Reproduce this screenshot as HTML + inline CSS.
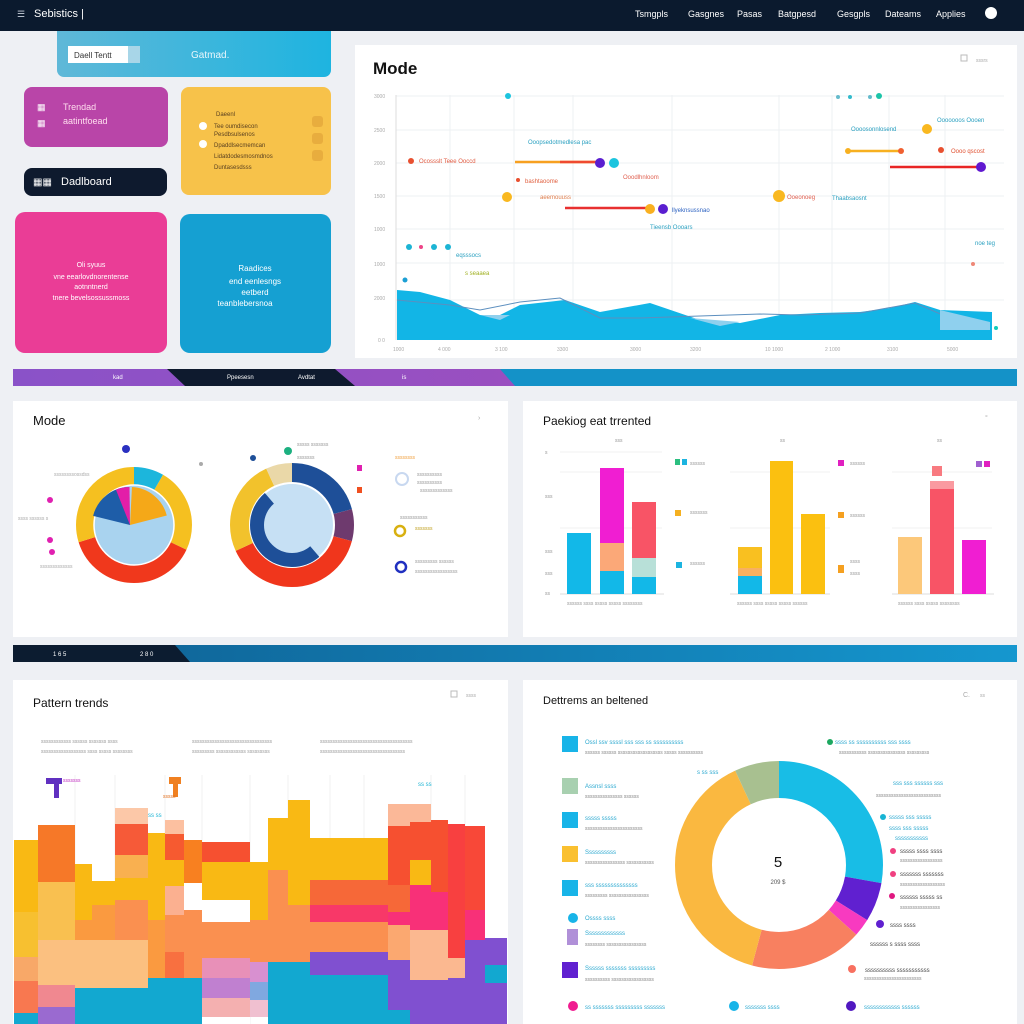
<!DOCTYPE html>
<html><head><meta charset="utf-8"><style>
html,body{margin:0;padding:0;background:#eef0f4;}
svg{display:block;font-family:"Liberation Sans",sans-serif;}
</style></head><body>
<svg width="1024" height="1024" viewBox="0 0 1024 1024" xmlns="http://www.w3.org/2000/svg">
<defs>
<linearGradient id="cy" x1="0" x2="1"><stop offset="0" stop-color="#5fb8d8"/><stop offset="1" stop-color="#1eb4e0"/></linearGradient>
<linearGradient id="st1" x1="0" x2="1"><stop offset="0" stop-color="#8a52c8"/><stop offset="0.5" stop-color="#9a4fc0"/><stop offset="1" stop-color="#1190c8"/></linearGradient>
<linearGradient id="st2" x1="0" x2="1"><stop offset="0" stop-color="#0f5f92"/><stop offset="1" stop-color="#1597cf"/></linearGradient>
<linearGradient id="org" x1="0" x2="1"><stop offset="0" stop-color="#f76b3a"/><stop offset="1" stop-color="#fb9a80"/></linearGradient>
</defs>
<rect width="1024" height="1024" fill="#eef0f4"/>
<!-- top bar -->
<rect width="1024" height="31" fill="#0b1a2e"/>
<text x="17" y="17" fill="#c8d0dc" font-size="9">☰</text>
<text x="34" y="17" fill="#fff" font-size="11">Sebistics |</text>
<g fill="#fff" font-size="9">
<text x="635" y="17">Tsmgpls</text><text x="688" y="17">Gasgnes</text><text x="737" y="17">Pasas</text><text x="778" y="17">Batgpesd</text><text x="837" y="17">Gesgpls</text><text x="885" y="17">Dateams</text><text x="936" y="17">Applies</text></g>
<circle cx="991" cy="13" r="6" fill="#fff"/>
<!-- left cards -->
<path d="M57 31 H331 V70 a7 7 0 0 1 -7 7 H64 a7 7 0 0 1 -7 -7 Z" fill="url(#cy)"/>
<rect x="68" y="46" width="60" height="17" fill="#fff"/><rect x="128" y="46" width="12" height="17" fill="#a8d6e8"/>
<text x="74" y="58" font-size="8" fill="#333">Daell Tentt</text>
<text x="191" y="58" font-size="10" fill="#e8f6fb">Gatmad.</text>
<rect x="24" y="87" width="144" height="60" rx="8" fill="#b945a8"/>
<text x="37" y="110" font-size="9" fill="#fff">▦</text><text x="37" y="126" font-size="9" fill="#fff">▦</text>
<text x="63" y="110" font-size="9" fill="#fde">Trendad</text><text x="63" y="124" font-size="9" fill="#fde">aatintfoead</text>
<rect x="181" y="87" width="150" height="108" rx="8" fill="#f7c24a"/>
<g fill="#5a4020" font-size="6"><text x="216" y="116">Daeenl</text><text x="214" y="128">Tee oumdisecon</text><text x="214" y="136">Pesdbsulsenos</text><text x="214" y="147">Dpaddlsecmemcan</text><text x="214" y="158">Lidatdodesmosmdnos</text><text x="214" y="169">Duntasesdsss</text></g>
<g fill="#fff"><circle cx="203" cy="126" r="4"/><circle cx="203" cy="144" r="4"/></g>
<g fill="#e8ad3e"><rect x="312" y="116" width="11" height="11" rx="3"/><rect x="312" y="133" width="11" height="11" rx="3"/><rect x="312" y="150" width="11" height="11" rx="3"/></g>
<rect x="24" y="168" width="143" height="28" rx="8" fill="#0e1a2e"/>
<text x="33" y="185" font-size="10" fill="#fff">▦▦</text><text x="61" y="185" font-size="11" fill="#fff">Dadlboard</text>
<rect x="15" y="212" width="152" height="141" rx="10" fill="#ea3d96"/>
<g fill="#fff" font-size="7" text-anchor="middle"><text x="91" y="267">Oli syuus</text><text x="91" y="279">vne eearlovdnorentense</text><text x="91" y="289">aotnntnerd</text><text x="91" y="300">tnere bevelsossussmoss</text></g>
<rect x="180" y="214" width="151" height="139" rx="10" fill="#15a0d2"/>
<g fill="#fff" font-size="8" text-anchor="middle"><text x="255" y="271">Raadices</text><text x="255" y="284">end eenlesngs</text><text x="255" y="295">eetberd</text><text x="245" y="306">teanblebersnoa</text></g>
<!-- top right chart panel -->
<rect x="355" y="45" width="662" height="313" fill="#fff"/>
<text x="373" y="74" font-size="17" font-weight="bold" fill="#111">Mode</text>
<rect x="961" y="55" width="6" height="6" fill="none" stroke="#bbb"/><text x="976" y="62" font-size="5" fill="#aaa">sssrs</text>
<g stroke="#eef0f3" stroke-width="1">
<line x1="396" y1="96" x2="1004" y2="96"/><line x1="396" y1="130" x2="1004" y2="130"/><line x1="396" y1="163" x2="1004" y2="163"/><line x1="396" y1="196" x2="1004" y2="196"/><line x1="396" y1="229" x2="1004" y2="229"/><line x1="396" y1="263" x2="1004" y2="263"/><line x1="396" y1="300" x2="1004" y2="300"/>
<line x1="450" y1="95" x2="450" y2="340"/><line x1="514" y1="95" x2="514" y2="340"/><line x1="573" y1="95" x2="573" y2="340"/><line x1="672" y1="95" x2="672" y2="340"/><line x1="779" y1="95" x2="779" y2="340"/><line x1="832" y1="95" x2="832" y2="340"/><line x1="889" y1="95" x2="889" y2="340"/><line x1="945" y1="95" x2="945" y2="340"/></g>
<line x1="396" y1="95" x2="396" y2="340" stroke="#ddd"/>
<g fill="#aaa" font-size="5"><text x="374" y="98">3000</text><text x="374" y="132">2500</text><text x="374" y="165">2000</text><text x="374" y="198">1500</text><text x="374" y="231">1000</text><text x="374" y="266">1000</text><text x="374" y="300">2000</text><text x="378" y="342">0 0</text>
<text x="393" y="351">1000</text><text x="438" y="351">4 000</text><text x="495" y="351">3 100</text><text x="557" y="351">3300</text><text x="630" y="351">3000</text><text x="690" y="351">3200</text><text x="765" y="351">10 1000</text><text x="825" y="351">2 1000</text><text x="887" y="351">3100</text><text x="947" y="351">5000</text></g>
<path d="M397 290 L420 292 L450 300 L480 315 L500 315 L520 305 L565 300 L600 312 L650 303 L700 320 L740 323 L780 315 L820 313 L860 312 L890 308 L915 302 L940 310 L992 312 L992 340 L397 340 Z" fill="#12b5e6"/>
<path d="M397 300 L450 305 L480 310 L520 302 L560 298 L600 318 L640 318 L700 316 L760 314 L800 315 L860 313 L915 303 L945 316 L985 325" fill="none" stroke="#5c8fbf" stroke-width="1"/>
<path d="M480 315 L500 320 L510 315 Z M690 318 L720 326 L740 322 Z M940 310 L990 322 L990 330 L940 330 Z" fill="#8fd0ee"/>
<!-- series lines/dots -->
<line x1="515" y1="162" x2="598" y2="162" stroke="#f7a020" stroke-width="2.5"/><line x1="560" y1="162" x2="598" y2="162" stroke="#ef4a30" stroke-width="2.5"/>
<circle cx="600" cy="163" r="5" fill="#5a1ed0"/><circle cx="614" cy="163" r="5" fill="#1cc4de"/>
<line x1="565" y1="208" x2="650" y2="208" stroke="#e83030" stroke-width="2.5"/><circle cx="650" cy="209" r="5" fill="#f9b020"/><circle cx="663" cy="209" r="5" fill="#5a1ed0"/>
<line x1="848" y1="151" x2="900" y2="151" stroke="#f7b020" stroke-width="2.5"/><circle cx="848" cy="151" r="3" fill="#f7b020"/><circle cx="901" cy="151" r="3" fill="#f06030"/>
<line x1="890" y1="167" x2="980" y2="167" stroke="#e82525" stroke-width="2.5"/><circle cx="981" cy="167" r="5" fill="#6018d0"/>
<circle cx="507" cy="197" r="5" fill="#f9b820"/><circle cx="779" cy="196" r="6" fill="#f9b820"/><circle cx="927" cy="129" r="5" fill="#f9b820"/>
<circle cx="508" cy="96" r="3" fill="#1cc4de"/><circle cx="838" cy="97" r="2" fill="#6bc"/><circle cx="850" cy="97" r="2" fill="#3bc"/><circle cx="870" cy="97" r="2" fill="#6bc"/><circle cx="879" cy="96" r="3" fill="#1cc4a8"/>
<circle cx="411" cy="161" r="3" fill="#e85030"/><circle cx="518" cy="180" r="2" fill="#e85030"/><circle cx="941" cy="150" r="3" fill="#e85030"/>
<circle cx="409" cy="247" r="3" fill="#1cb4d4"/><circle cx="421" cy="247" r="2" fill="#e48"/><circle cx="434" cy="247" r="3" fill="#1cb4d4"/><circle cx="448" cy="247" r="3" fill="#1cb4d4"/><circle cx="405" cy="280" r="2.5" fill="#1c9fd4"/>
<circle cx="973" cy="264" r="2" fill="#e87"/><circle cx="996" cy="328" r="2" fill="#1cb"/>
<g font-size="6"><text x="419" y="163" fill="#e05a40">Ocossslt Teee Ooccd</text><text x="528" y="144" fill="#2aa0c0">Ooopsedotmedlesa pac</text><text x="525" y="183" fill="#e06040">bashtaoome</text><text x="540" y="199" fill="#e08050">aeemouuss</text><text x="623" y="179" fill="#e06050">Ooodlhnloom</text><text x="672" y="212" fill="#2a60c0">llyeknsussnao</text><text x="650" y="229" fill="#2aa0c0">Tieensb Oooars</text><text x="787" y="199" fill="#e06050">Ooeonoeg</text><text x="832" y="200" fill="#2aa0c0">Thaabsaosnt</text><text x="851" y="131" fill="#2aa0c0">Oooosonnlosend</text><text x="937" y="122" fill="#2aa0c0">Ooooooos Oooen</text><text x="951" y="153" fill="#e05030">Oooo qscost</text><text x="975" y="245" fill="#2aa0c0">noe teg</text><text x="456" y="257" fill="#2aa0c0">eqsssocs</text><text x="465" y="275" fill="#a0b020">s seaaea</text></g>
<!-- stripe 1 -->
<rect x="13" y="369" width="1004" height="17" fill="url(#st1)"/>
<path d="M167 369 H335 L355 386 H185 Z" fill="#0e1a2e"/>
<path d="M500 369 H1017 V386 H515 Z" fill="#1492c8"/>
<g fill="#fff" font-size="6"><text x="113" y="379">kad</text><text x="227" y="379">Ppeesesn</text><text x="298" y="379">Avdtat</text><text x="402" y="379">is</text></g>
<!-- mid panels -->
<rect x="13" y="401" width="495" height="236" fill="#fff"/>
<text x="33" y="425" font-size="13" fill="#111">Mode</text>
<text x="478" y="420" font-size="7" fill="#aaa">›</text>
<!-- left donut -->
<g transform="rotate(-90 134 525)" fill="none" stroke-width="18">
<circle cx="134" cy="525" r="49" stroke="#1cb6dc" stroke-dasharray="25.7 400"/>
<circle cx="134" cy="525" r="49" stroke="#f5c020" stroke-dasharray="72.7 400" stroke-dashoffset="-25.7"/>
<circle cx="134" cy="525" r="49" stroke="#f0381c" stroke-dasharray="117.3 400" stroke-dashoffset="-98.4"/>
<circle cx="134" cy="525" r="49" stroke="#f5c020" stroke-dasharray="94.1 400" stroke-dashoffset="-215.7"/>
</g>
<circle cx="134" cy="525" r="40" fill="#a9d3ef" stroke="#fff" stroke-width="1.5"/>
<g transform="rotate(-90 134 525)" fill="none" stroke-width="38">
<circle cx="134" cy="521" r="19" stroke="#1e5da8" stroke-dasharray="25 200" stroke-dashoffset="-94"/>
<circle cx="134" cy="521" r="19" stroke="#e31ea8" stroke-dasharray="7 200" stroke-dashoffset="-112"/>
<circle cx="134" cy="521" r="19" stroke="#c8dcf4" stroke-dasharray="7 200" stroke-dashoffset="-119"/>
<circle cx="134" cy="521" r="19" stroke="#f5a818" stroke-dasharray="24 200" stroke-dashoffset="-1"/>
</g>
<circle cx="126" cy="449" r="4" fill="#2a30c0"/><circle cx="201" cy="464" r="2" fill="#aaa"/>
<g font-size="5" fill="#aaa"><text x="54" y="476">ssssssssossdss</text><text x="18" y="520">ssss ssssss s</text><text x="40" y="568">sssssssssssss</text></g>
<circle cx="50" cy="500" r="3" fill="#e020b0"/><circle cx="50" cy="540" r="3" fill="#e020b0"/><circle cx="52" cy="552" r="3" fill="#e020b0"/>
<!-- right donut -->
<g transform="rotate(-90 292 525)" fill="none" stroke-width="20">
<circle cx="292" cy="525" r="52" stroke="#1e4f98" stroke-dasharray="68.1 400"/>
<circle cx="292" cy="525" r="52" stroke="#6e3a6e" stroke-dasharray="27.2 400" stroke-dashoffset="-68.1"/>
<circle cx="292" cy="525" r="52" stroke="#f0361c" stroke-dasharray="127.1 400" stroke-dashoffset="-95.3"/>
<circle cx="292" cy="525" r="52" stroke="#f2c22c" stroke-dasharray="81.7 400" stroke-dashoffset="-222.4"/>
<circle cx="292" cy="525" r="52" stroke="#ead8a8" stroke-dasharray="22.7 400" stroke-dashoffset="-304.1"/>
</g>
<circle cx="292" cy="525" r="42" fill="#c6e0f4" stroke="#fff" stroke-width="2"/>
<g transform="rotate(-90 292 525)"><circle cx="292" cy="525" r="35" fill="none" stroke="#1e4f98" stroke-width="14" stroke-dasharray="110 300" stroke-dashoffset="-85"/></g>
<circle cx="288" cy="451" r="4" fill="#1cb080"/><circle cx="253" cy="458" r="3" fill="#1e4f98"/>
<rect x="357" y="465" width="5" height="6" fill="#e020b0"/><rect x="357" y="487" width="5" height="6" fill="#f05020"/>
<g font-size="5" fill="#999"><text x="297" y="446">sssss sssssss</text><text x="297" y="459">sssssss</text><text x="395" y="459" fill="#f0a040">ssssssss</text><text x="417" y="476">ssssssssss</text><text x="417" y="484">ssssssssss</text><text x="420" y="492">sssssssssssss</text><text x="400" y="519">sssssssssss</text><text x="415" y="530" fill="#c0a020">sssssss</text><text x="415" y="563">sssssssss ssssss</text><text x="415" y="573">sssssssssssssssss</text></g>
<circle cx="402" cy="479" r="6" fill="none" stroke="#c8d8f0" stroke-width="2"/>
<circle cx="400" cy="531" r="5" fill="none" stroke="#d8b010" stroke-width="2.5"/>
<circle cx="401" cy="567" r="5" fill="none" stroke="#2030c0" stroke-width="2.5"/>
<rect x="523" y="401" width="494" height="236" fill="#fff"/>
<text x="543" y="425" font-size="12" fill="#111">Paekiog eat trrented</text>
<text x="985" y="420" font-size="7" fill="#aaa">°</text>
<g stroke="#f0f0f0"><line x1="560" y1="452" x2="662" y2="452"/><line x1="560" y1="472" x2="662" y2="472"/><line x1="560" y1="528" x2="662" y2="528"/><line x1="730" y1="472" x2="830" y2="472"/><line x1="730" y1="528" x2="830" y2="528"/><line x1="892" y1="472" x2="992" y2="472"/><line x1="892" y1="528" x2="992" y2="528"/></g>
<g stroke="#ddd"><line x1="560" y1="594" x2="664" y2="594"/><line x1="730" y1="594" x2="830" y2="594"/><line x1="892" y1="594" x2="994" y2="594"/></g>
<rect x="567" y="533" width="24" height="61" fill="#12b8e8"/>
<rect x="600" y="468" width="24" height="75" fill="#f01ed2"/><rect x="600" y="543" width="24" height="28" fill="#fba878"/><rect x="600" y="571" width="24" height="23" fill="#12b8e8"/>
<rect x="632" y="502" width="24" height="56" fill="#f85466"/><rect x="632" y="558" width="24" height="19" fill="#b8e0d8"/><rect x="632" y="577" width="24" height="17" fill="#12b8e8"/>
<rect x="738" y="547" width="24" height="21" fill="#f9c020"/><rect x="738" y="568" width="24" height="8" fill="#f8b060"/><rect x="738" y="576" width="24" height="18" fill="#12b8e8"/>
<rect x="770" y="461" width="23" height="133" fill="#fbc010"/><rect x="801" y="514" width="24" height="80" fill="#fbc010"/>
<rect x="898" y="537" width="24" height="57" fill="#fcc87a"/><rect x="930" y="481" width="24" height="113" fill="#f85466"/><rect x="930" y="481" width="24" height="8" fill="#fa9aa0"/><rect x="962" y="540" width="24" height="54" fill="#f01ed2"/>
<g font-size="5" fill="#999"><text x="615" y="442">sss</text><text x="780" y="442">ss</text><text x="937" y="442">ss</text><text x="545" y="454">s</text><text x="545" y="498">sss</text><text x="545" y="553">sss</text><text x="545" y="575">sss</text><text x="545" y="595">ss</text><text x="567" y="605">ssssss ssss sssss sssss ssssssss</text><text x="737" y="605">ssssss ssss sssss sssss ssssss</text><text x="898" y="605">ssssss ssss sssss ssssssss</text><text x="690" y="465">ssssss</text><text x="690" y="514">sssssss</text><text x="690" y="565">ssssss</text><text x="850" y="465">ssssss</text><text x="850" y="517">ssssss</text><text x="850" y="563">ssss</text><text x="850" y="575">ssss</text></g>
<rect x="675" y="459" width="5" height="6" fill="#2bbf80"/><rect x="682" y="459" width="5" height="6" fill="#1cb4e0"/><rect x="675" y="510" width="6" height="6" fill="#f5b020"/><rect x="676" y="562" width="6" height="6" fill="#1cb4e0"/><rect x="838" y="460" width="6" height="6" fill="#e020c0"/><rect x="838" y="512" width="6" height="6" fill="#f5a020"/><rect x="838" y="565" width="6" height="8" fill="#f5a020"/><rect x="976" y="461" width="6" height="6" fill="#a060d0"/><rect x="984" y="461" width="6" height="6" fill="#e020c0"/><rect x="932" y="466" width="10" height="10" fill="#f87a80"/>
<!-- stripe 2 -->
<rect x="13" y="645" width="1004" height="17" fill="url(#st2)"/>
<path d="M13 645 H175 L190 662 H13 Z" fill="#0c1c30"/>
<g fill="#fff" font-size="6"><text x="53" y="656">1 6 5</text><text x="140" y="656">2 8 0</text></g>
<!-- bottom left -->
<rect x="13" y="680" width="495" height="344" fill="#fff"/>
<text x="33" y="707" font-size="12" fill="#111">Pattern trends</text>
<rect x="451" y="691" width="6" height="6" fill="none" stroke="#bbb"/><text x="466" y="697" font-size="5" fill="#aaa">ssss</text>
<g font-size="5" fill="#999"><text x="41" y="743">ssssssssssss ssssss sssssss ssss</text><text x="41" y="753">ssssssssssssssssss ssss sssss ssssssss</text><text x="192" y="743">ssssssssssssssssssssssssssssssss</text><text x="192" y="753">sssssssss ssssssssssss sssssssss</text><text x="320" y="743">sssssssssssssssssssssssssssssssssssss</text><text x="320" y="753">ssssssssssssssssssssssssssssssssss</text></g>
<g stroke="#f2f2f2"><line x1="75" y1="775" x2="75" y2="1024"/><line x1="115" y1="775" x2="115" y2="1024"/><line x1="165" y1="775" x2="165" y2="1024"/><line x1="202" y1="775" x2="202" y2="1024"/><line x1="250" y1="775" x2="250" y2="1024"/><line x1="288" y1="775" x2="288" y2="1024"/><line x1="330" y1="775" x2="330" y2="1024"/><line x1="364" y1="775" x2="364" y2="1024"/><line x1="431" y1="775" x2="431" y2="1024"/><line x1="465" y1="775" x2="465" y2="1024"/></g>
<g>
<rect x="14" y="840" width="24" height="72" fill="#f9b914"/><rect x="14" y="912" width="24" height="45" fill="#f7c030"/><rect x="14" y="957" width="24" height="24" fill="#f8a868"/><rect x="14" y="981" width="24" height="32" fill="#f87850"/><rect x="14" y="1013" width="24" height="11" fill="#12a8d0"/>
<rect x="38" y="825" width="37" height="57" fill="#f67828"/><rect x="38" y="882" width="37" height="58" fill="#f9c050"/><rect x="38" y="940" width="37" height="45" fill="#fbc080"/><rect x="38" y="985" width="37" height="22" fill="#f08890"/><rect x="38" y="1007" width="37" height="17" fill="#9a6ad0"/>
<rect x="75" y="864" width="17" height="56" fill="#f9b914"/><rect x="75" y="920" width="17" height="20" fill="#fa9a40"/><rect x="75" y="940" width="17" height="48" fill="#fbc080"/><rect x="75" y="988" width="17" height="36" fill="#12a8d0"/>
<rect x="92" y="881" width="23" height="24" fill="#f9b914"/><rect x="92" y="905" width="23" height="35" fill="#fa9a40"/><rect x="92" y="940" width="23" height="48" fill="#fbc080"/><rect x="92" y="988" width="23" height="36" fill="#12a8d0"/>
<rect x="115" y="808" width="33" height="16" fill="#fcc8a8"/><rect x="115" y="824" width="33" height="31" fill="#f65a38"/><rect x="115" y="855" width="33" height="23" fill="#f9b050"/><rect x="115" y="878" width="33" height="22" fill="#f9b914"/><rect x="115" y="900" width="33" height="40" fill="#fa9050"/><rect x="115" y="940" width="33" height="48" fill="#fbc080"/><rect x="115" y="988" width="33" height="36" fill="#12a8d0"/>
<rect x="148" y="833" width="17" height="87" fill="#f9b914"/><rect x="148" y="920" width="17" height="58" fill="#fa9a40"/><rect x="148" y="978" width="17" height="46" fill="#12a8d0"/>
<rect x="165" y="820" width="19" height="14" fill="#fcc0a0"/><rect x="165" y="834" width="19" height="26" fill="#f65a30"/><rect x="165" y="860" width="19" height="26" fill="#f9b914"/><rect x="165" y="886" width="19" height="29" fill="#fbb090"/><rect x="165" y="915" width="19" height="37" fill="#fa9050"/><rect x="165" y="952" width="19" height="26" fill="#f87040"/><rect x="165" y="978" width="19" height="46" fill="#12a8d0"/>
<rect x="184" y="840" width="18" height="43" fill="#f88020"/><rect x="184" y="883" width="18" height="27" fill="#fff"/><rect x="184" y="910" width="18" height="68" fill="#fa9050"/><rect x="184" y="978" width="18" height="46" fill="#12a8d0"/>
<rect x="202" y="842" width="48" height="20" fill="#f65030"/><rect x="202" y="862" width="48" height="38" fill="#f9b914"/><rect x="202" y="900" width="48" height="22" fill="#fff"/><rect x="202" y="922" width="48" height="36" fill="#fa9050"/><rect x="202" y="958" width="48" height="20" fill="#e890b8"/><rect x="202" y="978" width="48" height="20" fill="#c080d0"/><rect x="202" y="998" width="48" height="19" fill="#f4b0b0"/><rect x="202" y="1017" width="48" height="7" fill="#fff"/>
<rect x="250" y="862" width="18" height="58" fill="#f9b914"/><rect x="250" y="920" width="18" height="42" fill="#fa9050"/><rect x="250" y="962" width="18" height="20" fill="#d890d0"/><rect x="250" y="982" width="18" height="18" fill="#80a8e0"/><rect x="250" y="1000" width="18" height="17" fill="#f0c0d0"/>
<rect x="268" y="818" width="20" height="52" fill="#f9b914"/><rect x="268" y="870" width="20" height="92" fill="#fa9050"/><rect x="268" y="962" width="20" height="62" fill="#12a8d0"/>
<rect x="288" y="800" width="22" height="105" fill="#f9b914"/><rect x="288" y="905" width="22" height="57" fill="#fa9050"/><rect x="288" y="962" width="22" height="62" fill="#12a8d0"/>
<rect x="310" y="838" width="78" height="42" fill="#f9b914"/><rect x="310" y="880" width="78" height="25" fill="#f66838"/><rect x="310" y="905" width="78" height="17" fill="#f83868"/><rect x="310" y="922" width="78" height="30" fill="#fa9050"/><rect x="310" y="952" width="78" height="23" fill="#8050d0"/><rect x="310" y="975" width="78" height="49" fill="#12a8d0"/>
<rect x="388" y="804" width="22" height="22" fill="#fbb898"/><rect x="388" y="826" width="22" height="59" fill="#f65030"/><rect x="388" y="885" width="22" height="27" fill="#f66838"/><rect x="388" y="912" width="22" height="13" fill="#f83078"/><rect x="388" y="925" width="22" height="35" fill="#fba870"/><rect x="388" y="960" width="22" height="50" fill="#8050d0"/><rect x="388" y="1010" width="22" height="14" fill="#12a8d0"/>
<rect x="410" y="804" width="21" height="18" fill="#fbb898"/><rect x="410" y="822" width="21" height="38" fill="#f65030"/><rect x="410" y="860" width="21" height="25" fill="#f9b914"/><rect x="410" y="885" width="21" height="45" fill="#f83078"/><rect x="410" y="930" width="21" height="50" fill="#fbb890"/><rect x="410" y="980" width="21" height="44" fill="#8050d0"/>
<rect x="431" y="820" width="17" height="72" fill="#f65030"/><rect x="431" y="892" width="17" height="38" fill="#f83078"/><rect x="431" y="930" width="17" height="50" fill="#fbb890"/><rect x="431" y="980" width="17" height="44" fill="#8050d0"/>
<rect x="448" y="824" width="17" height="134" fill="#f84040"/><rect x="448" y="958" width="17" height="20" fill="#fbb890"/><rect x="448" y="978" width="17" height="46" fill="#8050d0"/>
<rect x="465" y="826" width="20" height="84" fill="#f84838"/><rect x="465" y="910" width="20" height="30" fill="#f83078"/><rect x="465" y="940" width="20" height="84" fill="#8050d0"/>
<rect x="485" y="938" width="22" height="27" fill="#8050d0"/><rect x="485" y="965" width="22" height="18" fill="#12a8d0"/><rect x="485" y="983" width="22" height="41" fill="#8050d0"/>
</g>
<rect x="54" y="778" width="5" height="20" fill="#6030c0"/><rect x="46" y="778" width="16" height="6" fill="#6030c0"/><text x="63" y="782" font-size="5" fill="#c030c0">sssssss</text>
<rect x="173" y="777" width="5" height="20" fill="#f08020"/><rect x="169" y="777" width="12" height="7" fill="#f08020"/><text x="163" y="798" font-size="5" fill="#e07020">sssss</text>
<text x="148" y="817" font-size="6" fill="#1cb4d4">ss ss</text><text x="418" y="786" font-size="6" fill="#1cb4d4">ss ss</text>
<!-- bottom right -->
<rect x="523" y="680" width="494" height="344" fill="#fff"/>
<text x="543" y="704" font-size="11" fill="#111">Dettrems an beltened</text>
<text x="963" y="697" font-size="7" fill="#aaa">C.</text><text x="980" y="697" font-size="5" fill="#aaa">ss</text>
<g transform="rotate(-90 779 865)" fill="none" stroke-width="37">
<circle cx="779" cy="865" r="85.5" stroke="#18bde6" stroke-dasharray="149.2 600"/>
<circle cx="779" cy="865" r="85.5" stroke="#6020d0" stroke-dasharray="32.8 600" stroke-dashoffset="-149.2"/>
<circle cx="779" cy="865" r="85.5" stroke="#f83ac0" stroke-dasharray="14.9 600" stroke-dashoffset="-182"/>
<circle cx="779" cy="865" r="85.5" stroke="#f88060" stroke-dasharray="94 600" stroke-dashoffset="-196.9"/>
<circle cx="779" cy="865" r="85.5" stroke="#fab840" stroke-dasharray="208.9 600" stroke-dashoffset="-290.9"/>
<circle cx="779" cy="865" r="85.5" stroke="#a8c090" stroke-dasharray="37.3 600" stroke-dashoffset="-499.8"/>
</g>
<text x="778" y="867" font-size="15" fill="#111" text-anchor="middle">5</text>
<text x="778" y="884" font-size="6" fill="#555" text-anchor="middle">209 $</text>
<rect x="562" y="736" width="16" height="16" fill="#18b4e8"/><rect x="562" y="778" width="16" height="16" fill="#a8d0b0"/><rect x="562" y="812" width="16" height="16" fill="#18b4e8"/><rect x="562" y="846" width="16" height="16" fill="#fac030"/><rect x="562" y="880" width="16" height="16" fill="#18b4e8"/><circle cx="573" cy="918" r="5" fill="#18b4e8"/><rect x="567" y="929" width="11" height="16" fill="#b090d8"/><rect x="562" y="962" width="16" height="16" fill="#6020d0"/>
<g font-size="6"><g fill="#2aa8d0"><text x="585" y="744">Ossl ssv ssssl sss sss ss ssssssssss</text><text x="585" y="788">Assnsl ssss</text><text x="585" y="820">sssss sssss</text><text x="585" y="854">Ssssssssss</text><text x="585" y="887">sss ssssssssssssss</text><text x="585" y="920">Ossss ssss</text><text x="585" y="935">Sssssssssssss</text><text x="585" y="970">Ssssss sssssss sssssssss</text><text x="835" y="744">ssss ss ssssssssss sss ssss</text><text x="893" y="785">sss sss ssssss sss</text><text x="889" y="819">sssss sss sssss</text><text x="889" y="830">ssss sss sssss</text><text x="895" y="840">sssssssssss</text><text x="585" y="1009">ss sssssss sssssssss sssssss</text><text x="745" y="1009">sssssss ssss</text><text x="864" y="1009">ssssssssssss ssssss</text></g>
<g fill="#888" font-size="5"><text x="585" y="754">ssssss ssssss ssssssssssssssssss sssss ssssssssss</text><text x="585" y="798">sssssssssssssss ssssss</text><text x="585" y="830">sssssssssssssssssssssss</text><text x="585" y="864">ssssssssssssssss sssssssssss</text><text x="585" y="897">sssssssss ssssssssssssssss</text><text x="585" y="946">ssssssss ssssssssssssssss</text><text x="585" y="981">ssssssssss sssssssssssssssss</text><text x="839" y="754">sssssssssss sssssssssssssss sssssssss</text><text x="876" y="797">ssssssssssssssssssssssssss</text><text x="900" y="862">sssssssssssssssss</text><text x="900" y="886">ssssssssssssssssss</text><text x="900" y="909">ssssssssssssssss</text><text x="864" y="980">sssssssssssssssssssssss</text></g>
<g fill="#444"><text x="900" y="853">sssss ssss ssss</text><text x="900" y="876">sssssss sssssss</text><text x="900" y="899">ssssss sssss ss</text><text x="890" y="927">ssss ssss</text><text x="870" y="946">ssssss s ssss ssss</text><text x="865" y="972">ssssssssss sssssssssss</text></g></g>
<circle cx="830" cy="742" r="3" fill="#1ca860"/><circle cx="883" cy="817" r="3" fill="#18b4d4"/><circle cx="893" cy="851" r="3" fill="#f04080"/><circle cx="893" cy="874" r="3" fill="#f04080"/><circle cx="892" cy="896" r="3" fill="#e01880"/><circle cx="880" cy="924" r="4" fill="#6020d0"/><circle cx="852" cy="969" r="4" fill="#f87060"/><circle cx="573" cy="1006" r="5" fill="#f01c90"/><circle cx="734" cy="1006" r="5" fill="#18b4e8"/><circle cx="851" cy="1006" r="5" fill="#5018c0"/>
<text x="697" y="774" font-size="6" fill="#2aa8d0">s ss sss</text>
</svg>
</body></html>
